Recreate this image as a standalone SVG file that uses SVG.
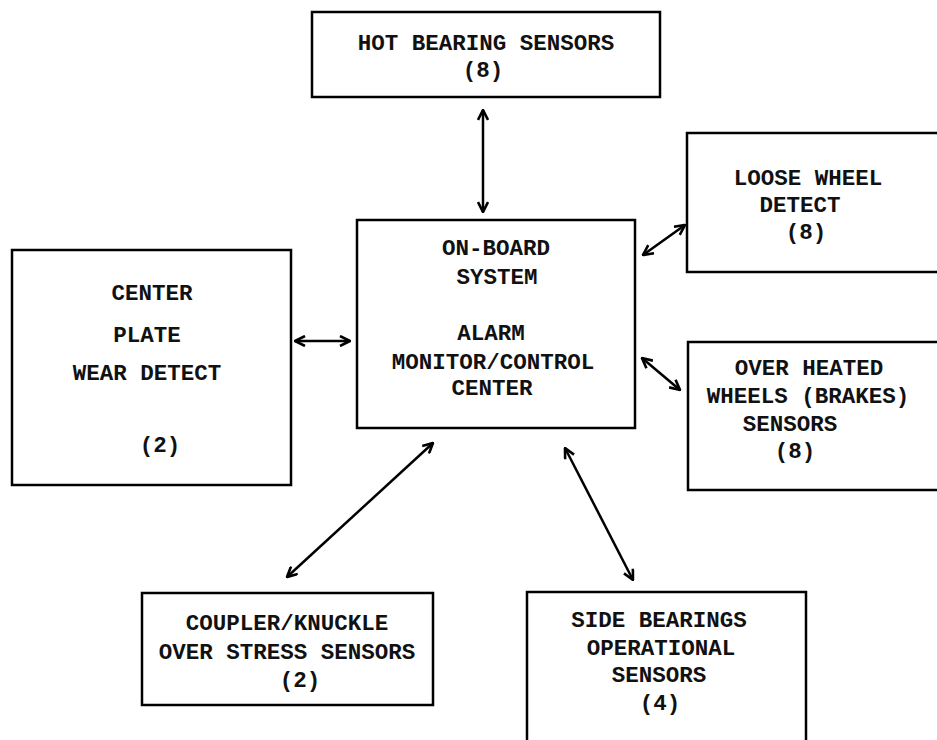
<svg xmlns="http://www.w3.org/2000/svg" width="937" height="740" viewBox="0 0 937 740">
<style>
.box{fill:none;stroke:#000;stroke-width:2.5}
.t{font-family:"Liberation Mono","Courier New",monospace;font-weight:bold;font-size:22.5px;fill:#111;text-anchor:middle}
.c{fill:none;stroke:#000;stroke-width:2.5;marker-start:url(#ah);marker-end:url(#ah)}
</style>
<defs>
<marker id="ah" viewBox="0 0 12 12" refX="11" refY="6" markerWidth="12" markerHeight="12" markerUnits="userSpaceOnUse" orient="auto-start-reverse">
<path d="M1,1 L11,6 L1,11" fill="none" stroke="#000" stroke-width="2.6" stroke-linejoin="miter"/>
</marker>
</defs>
<rect width="937" height="740" fill="#fff"/>
<g id="hot-bearing">
<rect class="box" x="312" y="12" width="348" height="85"/>
<text class="t" x="486" y="50">HOT BEARING SENSORS</text>
<text class="t" x="483" y="77">(8)</text>
</g>
<g id="center-plate">
<rect class="box" x="12" y="250" width="279" height="235"/>
<text class="t" x="152" y="300">CENTER</text>
<text class="t" x="147" y="342">PLATE</text>
<text class="t" x="147" y="380">WEAR DETECT</text>
<text class="t" x="160" y="452">(2)</text>
</g>
<g id="on-board">
<rect class="box" x="357" y="220" width="278" height="208"/>
<text class="t" x="496" y="255">ON-BOARD</text>
<text class="t" x="497" y="284">SYSTEM</text>
<text class="t" x="491" y="340">ALARM</text>
<text class="t" x="493" y="369">MONITOR/CONTROL</text>
<text class="t" x="492" y="395">CENTER</text>
</g>
<g id="loose-wheel">
<rect class="box" x="687" y="133" width="258" height="139"/>
<text class="t" x="808" y="185">LOOSE WHEEL</text>
<text class="t" x="800" y="212">DETECT</text>
<text class="t" x="806" y="239">(8)</text>
</g>
<g id="over-heated">
<rect class="box" x="688" y="342" width="257" height="148"/>
<text class="t" x="809" y="375">OVER HEATED</text>
<text class="t" x="808" y="403">WHEELS (BRAKES)</text>
<text class="t" x="790" y="431">SENSORS</text>
<text class="t" x="795" y="458">(8)</text>
</g>
<g id="coupler">
<rect class="box" x="142" y="593" width="291" height="112"/>
<text class="t" x="287" y="630">COUPLER/KNUCKLE</text>
<text class="t" x="287" y="659">OVER STRESS SENSORS</text>
<text class="t" x="300" y="687">(2)</text>
</g>
<g id="side-bearings">
<rect class="box" x="527" y="592" width="279" height="170"/>
<text class="t" x="659" y="627">SIDE BEARINGS</text>
<text class="t" x="661" y="655">OPERATIONAL</text>
<text class="t" x="659" y="682">SENSORS</text>
<text class="t" x="660" y="710">(4)</text>
</g>
<g id="connectors">
<line class="c" x1="483" y1="110" x2="483" y2="212"/>
<line class="c" x1="295" y1="341" x2="350" y2="341"/>
<line class="c" x1="643" y1="255" x2="685" y2="225"/>
<line class="c" x1="642" y1="358" x2="680" y2="390"/>
<line class="c" x1="433" y1="443" x2="287" y2="577"/>
<line class="c" x1="565" y1="448" x2="633" y2="580"/>
</g>
</svg>
